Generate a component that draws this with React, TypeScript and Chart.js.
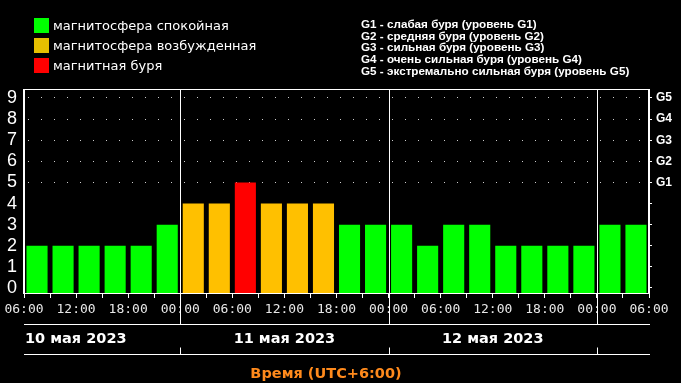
import React, { useEffect, useRef } from 'react';
import { Chart, registerables } from 'chart.js';

Chart.register(...registerables);

// ---- data ----
const KP_VALUES = [2, 2, 2, 2, 2, 3, 4, 4, 5, 4, 4, 4, 3, 3, 3, 2, 3, 3, 2, 2, 2, 2, 3, 3];
const STEP_HOURS = 3;
const X_TICK_LABELS = ['06:00', '12:00', '18:00', '00:00', '06:00', '12:00', '18:00', '00:00', '06:00', '12:00', '18:00', '00:00', '06:00'];
const LABEL_EVERY_HOURS = 6;
const DAY_LABELS = ['10 мая 2023', '11 мая 2023', '12 мая 2023'];
const DAY_BOUNDARY_HOURS = [-6, 18, 42, 66];
const Y_TICKS = [0, 1, 2, 3, 4, 5, 6, 7, 8, 9];
const G_LEVEL_LABELS = ['G1', 'G2', 'G3', 'G4', 'G5'];
const G_LEVEL_START = 5;
const G_DESCRIPTIONS = [
  'G1 - слабая буря (уровень G1)',
  'G2 - средняя буря (уровень G2)',
  'G3 - сильная буря (уровень G3)',
  'G4 - очень сильная буря (уровень G4)',
  'G5 - экстремально сильная буря (уровень G5)',
];
const LEGEND_LABELS = ['магнитосфера спокойная', 'магнитосфера возбужденная', 'магнитная буря'];
const LEGEND_COLORS = ['#00ff00', '#e6bf00', '#ff0000'];
const AXIS_TITLE = 'Время (UTC+6:00)';

const Y_MIN = -0.237;
const Y_MAX = 9.426;
const X_MAX = KP_VALUES.length * STEP_HOURS;

const colorFor = (v: number) => (v >= 5 ? '#ff0000' : v >= 4 ? '#ffc000' : '#00ff00');

const decorPlugin = {
  id: 'decor',
  afterDraw(chart: any) {
    const { ctx, chartArea: ca } = chart;
    const xs = chart.scales.x;
    const line1 = 324.5;
    const line2 = 354.5;
    ctx.save();
    ctx.strokeStyle = '#ffffff';
    ctx.lineWidth = 1;
    ctx.strokeRect(Math.round(ca.left) - 0.5, Math.round(ca.top) + 0.5, Math.round(ca.right - ca.left), Math.round(ca.bottom - ca.top));
    DAY_BOUNDARY_HOURS.forEach((h) => {
      if (h <= 0 || h >= X_MAX) return;
      const px = Math.round(xs.getPixelForValue(h)) + 0.5;
      ctx.beginPath();
      ctx.moveTo(px, ca.top);
      ctx.lineTo(px, line1);
      ctx.moveTo(px, line2 - 7);
      ctx.lineTo(px, line2);
      ctx.stroke();
    });
    ctx.beginPath();
    ctx.moveTo(Math.round(ca.left), line1);
    ctx.lineTo(Math.round(ca.right) + 1, line1);
    ctx.moveTo(Math.round(ca.left), line2);
    ctx.lineTo(Math.round(ca.right) + 1, line2);
    ctx.stroke();
    ctx.fillStyle = '#ffffff';
    ctx.font = 'bold 14.5px "DejaVu Sans"';
    ctx.textBaseline = 'middle';
    DAY_LABELS.forEach((label, i) => {
      const start = DAY_BOUNDARY_HOURS[i];
      const end = DAY_BOUNDARY_HOURS[i + 1];
      if (start < 0) {
        ctx.textAlign = 'left';
        ctx.fillText(label, ca.left + 1, 339);
      } else {
        ctx.textAlign = 'center';
        ctx.fillText(label, xs.getPixelForValue((start + end) / 2), 339);
      }
    });
    ctx.fillStyle = '#ff8a1c';
    ctx.font = 'bold 14.5px "DejaVu Sans"';
    ctx.textAlign = 'center';
    ctx.fillText(AXIS_TITLE, 326, 374);
    ctx.restore();
  },
};

export default function App() {
  const ref = useRef<HTMLCanvasElement>(null);

  useEffect(() => {
    const canvas = ref.current;
    if (!canvas) return;
    const xTicks: number[] = [];
    for (let h = 0; h <= X_MAX; h += STEP_HOURS) xTicks.push(h);

    const chart = new Chart(canvas, {
      type: 'bar',
      data: {
        datasets: [
          {
            data: KP_VALUES.map((v, i) => ({ x: i * STEP_HOURS + STEP_HOURS / 2, y: v })),
            backgroundColor: KP_VALUES.map(colorFor),
            base: Y_MIN,
            barPercentage: 0.81,
            categoryPercentage: 1,
            borderWidth: 0,
            yAxisID: 'y',
          } as any,
        ],
      },
      options: {
        responsive: false,
        animation: false,
        devicePixelRatio: 1,
        layout: { padding: { top: 89, left: 0, right: 0, bottom: 0 } },
        plugins: { legend: { display: false }, tooltip: { enabled: false } },
        scales: {
          x: {
            type: 'linear',
            offset: false,
            min: 0,
            max: X_MAX,
            afterBuildTicks: (s: any) => {
              s.ticks = xTicks.map((v) => ({ value: v }));
            },
            afterFit: (s: any) => {
              s.height = 90;
            },
            ticks: {
              autoSkip: false,
              maxRotation: 0,
              color: '#e8e8e8',
              padding: 4,
              font: { family: '"DejaVu Sans Mono"', size: 13 },
              callback: (v: any) => (v % LABEL_EVERY_HOURS === 0 ? X_TICK_LABELS[v / LABEL_EVERY_HOURS] : ''),
            },
            grid: { offset: false, drawOnChartArea: false, drawTicks: true, tickLength: 5, color: '#ffffff' },
            border: { color: '#ffffff', width: 1 },
          },
          y: {
            position: 'left',
            min: Y_MIN,
            max: Y_MAX,
            afterBuildTicks: (s: any) => {
              s.ticks = Y_TICKS.map((v) => ({ value: v }));
            },
            afterFit: (s: any) => {
              s.width = 24;
            },
            ticks: {
              autoSkip: false,
              color: '#ffffff',
              padding: 7,
              font: { family: '"Liberation Sans"', size: 18 },
            },
            grid: {
              drawTicks: false,
              lineWidth: 1,
              color: (c: any) => (c.tick && c.tick.value >= G_LEVEL_START ? 'rgba(255,255,255,0.8)' : 'rgba(0,0,0,0)'),
            },
            border: { color: '#ffffff', width: 1, dash: [1, 12], dashOffset: 10 },
          },
          y2: {
            position: 'right',
            min: Y_MIN,
            max: Y_MAX,
            afterBuildTicks: (s: any) => {
              s.ticks = Y_TICKS.map((v) => ({ value: v }));
            },
            afterFit: (s: any) => {
              s.width = 32;
            },
            ticks: {
              autoSkip: false,
              color: '#ffffff',
              padding: 4,
              font: { family: '"Liberation Sans"', size: 12, weight: 'bold' },
              callback: (v: any) => (v >= G_LEVEL_START ? G_LEVEL_LABELS[v - G_LEVEL_START] : ''),
            },
            grid: { drawOnChartArea: false, drawTicks: true, tickLength: 3, color: '#ffffff' },
            border: { color: '#ffffff', width: 1 },
          },
        } as any,
      },
      plugins: [decorPlugin],
    });
    return () => chart.destroy();
  }, []);

  return (
    <div style={{ position: 'fixed', left: 0, top: 0, width: 681, height: 383, background: '#000', overflow: 'hidden' }}>
      <canvas ref={ref} width={681} height={383} style={{ display: 'block', width: 681, height: 383 }} />
      {LEGEND_LABELS.map((label, i) => (
        <div key={label} style={{ position: 'absolute', left: 34, top: 18 + i * 20, height: 15, display: 'flex', alignItems: 'center' }}>
          <div style={{ width: 15, height: 15, background: LEGEND_COLORS[i] }} />
          <span style={{ marginLeft: 4, color: '#fff', font: '13px "DejaVu Sans"', whiteSpace: 'nowrap', lineHeight: '15px' }}>{label}</span>
        </div>
      ))}
      <div style={{ position: 'absolute', left: 361, top: 18, color: '#fff', font: 'bold 11.7px "Liberation Sans"', lineHeight: '11.7px', whiteSpace: 'nowrap' }}>
        {G_DESCRIPTIONS.map((d) => (
          <div key={d}>{d}</div>
        ))}
      </div>
    </div>
  );
}
